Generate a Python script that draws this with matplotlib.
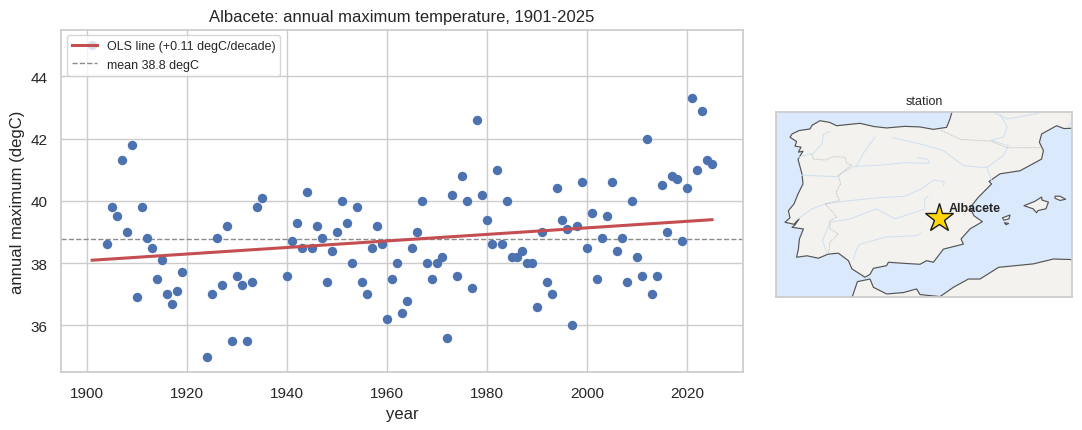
import numpy as np
import matplotlib
matplotlib.use("Agg")
import matplotlib.pyplot as plt
from matplotlib.patches import Polygon

# Annual maximum temperature at Albacete
years = [1901, 1904, 1905, 1906, 1907, 1908, 1909, 1910, 1911, 1912, 1913, 1914, 1915, 1916, 1917, 1918, 1919,
         1924, 1925, 1926, 1927, 1928, 1929, 1930, 1931, 1932, 1933, 1934, 1935,
         1940, 1941, 1942, 1943, 1944, 1945, 1946, 1947, 1948, 1949, 1950, 1951, 1952, 1953, 1954, 1955, 1956,
         1957, 1958, 1959, 1960, 1961, 1962, 1963, 1964, 1965, 1966, 1967, 1968, 1969, 1970, 1971, 1972, 1973,
         1974, 1975, 1976, 1977, 1978, 1979, 1980, 1981, 1982, 1983, 1984, 1985, 1986, 1987, 1988, 1989, 1990,
         1991, 1992, 1993, 1994, 1995, 1996, 1997, 1998, 1999, 2000, 2001, 2002, 2003, 2004, 2005, 2006, 2007,
         2008, 2009, 2010, 2011, 2012, 2013, 2014, 2015, 2016, 2017, 2018, 2019, 2020, 2021, 2022, 2023, 2024, 2025]
tmax = [45.0, 38.6, 39.8, 39.5, 41.3, 39.0, 41.8, 36.9, 39.8, 38.8, 38.5, 37.5, 38.1, 37.0, 36.7, 37.1, 37.7,
        35.0, 37.0, 38.8, 37.3, 39.2, 35.5, 37.6, 37.3, 35.5, 37.4, 39.8, 40.1,
        37.6, 38.7, 39.3, 38.5, 40.3, 38.5, 39.2, 38.8, 37.4, 38.4, 39.0, 40.0, 39.3, 38.0, 39.8, 37.4, 37.0,
        38.5, 39.2, 38.6, 36.2, 37.5, 38.0, 36.4, 36.8, 38.5, 39.0, 40.0, 38.0, 37.5, 38.0, 38.2, 35.6, 40.2,
        37.6, 40.8, 40.0, 37.2, 42.6, 40.2, 39.4, 38.6, 41.0, 38.6, 40.0, 38.2, 38.2, 38.4, 38.0, 38.0, 36.6,
        39.0, 37.4, 37.0, 40.4, 39.4, 39.1, 36.0, 39.2, 40.6, 38.5, 39.6, 37.5, 38.8, 39.5, 40.6, 38.4, 38.8,
        37.4, 40.0, 38.2, 37.6, 42.0, 37.0, 37.6, 40.5, 39.0, 40.8, 40.7, 38.7, 40.4, 43.3, 41.0, 42.9, 41.3, 41.2]

x_ticks = [1900, 1920, 1940, 1960, 1980, 2000, 2020]
y_ticks = [36, 38, 40, 42, 44]

# Land outlines as (lon, lat)
europe = [(-1.2, 44.3), (-1.2, 44.24), (-1.3, 43.9), (-1.47, 43.48), (-2.13, 43.38), (-2.8, 43.5), (-3.55, 43.53),
          (-4.47, 43.45), (-5.1, 43.52), (-5.8, 43.68), (-6.97, 43.56), (-7.3, 43.72), (-7.8, 43.81), (-8.2, 43.58),
          (-8.3, 43.4), (-8.85, 43.32), (-9.2, 43.15), (-9.3, 42.99), (-8.97, 42.78), (-9.05, 42.55), (-8.75, 42.5),
          (-8.88, 42.25), (-8.65, 42.3), (-8.9, 41.9), (-8.7, 41.17), (-8.65, 40.68), (-8.9, 40.18), (-9.1, 39.69),
          (-9.38, 39.35), (-9.3, 39.0), (-9.55, 38.78), (-9.1, 38.68), (-8.85, 38.95), (-9.05, 38.65), (-9.2, 38.53),
          (-8.63, 38.45), (-8.83, 37.95), (-8.88, 37.46), (-8.97, 37.05), (-8.45, 37.12), (-7.88, 37.0),
          (-7.4, 37.2), (-6.88, 37.25), (-6.38, 36.88), (-6.2, 36.47), (-5.55, 36.06), (-5.3, 36.2), (-5.13, 36.5),
          (-4.47, 36.63), (-4.38, 36.8), (-3.5, 36.74), (-2.8, 36.7), (-2.47, 36.88), (-2.13, 36.8), (-1.9, 37.1),
          (-1.63, 37.45), (-0.63, 37.7), (-0.75, 37.95), (-0.3, 38.45), (0.32, 38.81), (-0.1, 39.1), (-0.3, 39.5),
          (0.1, 40.0), (0.78, 40.68), (0.65, 40.8), (1.2, 41.18), (2.2, 41.33), (2.8, 41.65), (3.28, 41.91),
          (3.37, 42.33), (3.17, 42.74), (3.28, 43.15), (4.03, 43.56), (4.4, 43.42), (4.95, 43.44), (4.95, 44.3)]
africa = [(-6.25, 34.9), (-5.93, 35.84), (-5.3, 35.97), (-5.13, 35.56), (-4.47, 35.23), (-3.63, 35.3), (-2.97, 35.48),
          (-2.8, 35.2), (-1.8, 35.1), (-1.13, 35.56), (-0.38, 35.97), (0.2, 35.97), (1.13, 36.55), (2.87, 36.72),
          (3.87, 36.96), (4.95, 36.93), (4.95, 34.9)]
mallorca = [(2.4, 39.6), (2.95, 39.82), (3.28, 40.03), (3.3, 39.88), (3.62, 39.78), (3.5, 39.45), (3.1, 39.36), (3.03, 39.25), (2.85, 39.45)]
menorca = [(3.95, 40.07), (4.2, 40.07), (4.48, 39.92), (4.2, 39.86), (3.95, 39.97)]
ibiza = [(1.32, 39.0), (1.7, 39.14), (1.65, 38.95), (1.4, 38.88)]
formentera = [(1.42, 38.76), (1.63, 38.72), (1.5, 38.66)]

rivers = [
    [(-8.72, 41.11), (-6.98, 41.04), (-6.15, 41.54), (-4.91, 41.6), (-3.58, 41.73), (-2.34, 41.7), (-2.42, 41.9), (-2.92, 41.98)],
    [(-9.05, 38.85), (-8.2, 39.44), (-7.55, 39.69), (-6.3, 39.85), (-4.83, 40.0), (-3.58, 40.06), (-2.75, 40.42), (-2.09, 40.88), (-1.59, 40.78), (-1.63, 40.58)],
    [(-7.47, 37.3), (-7.67, 37.87), (-7.3, 38.78), (-6.3, 38.95), (-4.97, 39.44), (-4.05, 38.95), (-2.55, 39.44), (-2.59, 39.92), (-2.39, 40.06)],
    [(-6.13, 36.96), (-5.97, 37.45), (-5.8, 37.7), (-4.55, 38.04), (-2.97, 38.12), (-2.72, 38.24)],
    [(-8.88, 42.0), (-8.13, 42.2), (-7.7, 42.65), (-7.63, 43.15), (-7.3, 43.28)],
    [(-5.97, 41.58), (-5.55, 42.32), (-5.05, 42.99)],
    [(0.79, 40.8), (0.54, 41.5), (0.28, 41.5), (-0.63, 41.58), (-1.63, 42.33), (-2.8, 42.66), (-4.16, 42.97)],
    [(0.54, 41.5), (1.37, 42.08), (1.62, 42.57), (0.74, 42.85), (1.37, 42.99), (1.57, 43.48), (1.2, 44.14)],
    [(0.95, 44.17), (1.57, 43.9), (3.12, 44.17)],
    [(4.6, 43.5), (4.78, 43.8)],
]
borders = [
    [(-8.22, 42.16), (-8.13, 41.91), (-7.55, 41.86), (-7.13, 42.03), (-6.55, 42.0), (-6.47, 41.7), (-6.22, 41.62),
     (-6.88, 41.09), (-6.77, 40.68), (-7.0, 40.26), (-6.83, 39.85), (-7.55, 39.69), (-7.22, 39.35), (-6.97, 39.03),
     (-7.3, 38.86), (-7.3, 38.45), (-6.88, 38.2), (-7.3, 37.79), (-7.38, 37.2)],
    [(-1.76, 43.34), (-0.76, 42.88), (0.73, 42.8), (1.56, 42.47), (3.25, 42.47)],
]
station_name = "Albacete"
station_lon, station_lat = -1.86, 38.99

plt.rcParams.update({
    "font.family": ["Liberation Sans", "DejaVu Sans"],
    "text.color": ".15",
    "axes.labelcolor": ".15",
    "xtick.color": ".15",
    "ytick.color": ".15",
    "axes.edgecolor": ".8",
    "axes.linewidth": 1.25,
    "grid.color": ".8",
    "grid.linewidth": 1.0,
    "xtick.labelsize": 11,
    "ytick.labelsize": 11,
    "axes.labelsize": 12,
    "axes.titlesize": 12,
})

W, H = 1082, 431
fig = plt.figure(figsize=(W / 100, H / 100), dpi=100, facecolor="white")


def pixel_axes(left, top, right, bottom):
    return fig.add_axes([left / W, 1 - bottom / H, (right - left) / W, (bottom - top) / H])


# Time series panel
ax = pixel_axes(61.2, 30.7, 743, 373.1)
yr = np.array(years, float)
tm = np.array(tmax, float)
ax.set_axisbelow(True)
ax.grid(True)
ax.scatter(yr, tm, s=46, color="#4c72b0", zorder=2.5, linewidths=0)

slope, intercept = np.polyfit(yr, tm, 1)
mean_t = tm.mean()
ax.plot([yr[0], yr[-1]], [slope * yr[0] + intercept, slope * yr[-1] + intercept], color="#c44e52", lw=2.2, zorder=3,
        label=f"OLS line ({slope * 10:+.2f} degC/decade)")
ax.axhline(mean_t, color="#8c8c8c", lw=1, ls="--", zorder=2, label=f"mean {mean_t:.1f} degC")

ax.set_xlim(1894.8, 2031.2)
ax.set_ylim(34.5, 45.5)
ax.set_xticks(x_ticks)
ax.set_yticks(y_ticks)
ax.tick_params(axis="x", length=0, pad=10)
ax.tick_params(axis="y", length=0, pad=9.6)
ax.set_xlabel("year", labelpad=4)
ax.set_ylabel("annual maximum (degC)", labelpad=4)
ax.set_title("Albacete: annual maximum temperature, 1901-2025", pad=6.5)
ax.legend(loc="upper left", fontsize=9, frameon=True, framealpha=0.8, edgecolor=".8", borderaxespad=0.45)

# Locator map panel
mp = pixel_axes(776, 113, 1072, 298)
mp.set_facecolor("#dbe9fd")
land_kw = dict(closed=True, facecolor="#f3f2ee", edgecolor="#555555", lw=0.85, joinstyle="round", zorder=2)
for shape in (europe, africa, mallorca, menorca, ibiza, formentera):
    mp.add_patch(Polygon(shape, **land_kw))
for river in rivers:
    lon, lat = zip(*river)
    mp.plot(lon, lat, color="#cfe0f0", lw=0.7, zorder=3)
for border in borders:
    lon, lat = zip(*border)
    mp.plot(lon, lat, color="#b4b4b0", lw=0.6, ls=(0, (1, 1)), zorder=3)
mp.plot([station_lon], [station_lat], marker="*", ms=21, mfc="#ffd60a", mec="#1a1a1a", mew=1.0, zorder=5)
mp.annotate(station_name, (station_lon, station_lat), xytext=(7, 5), textcoords="offset points",
            fontsize=9, fontweight="bold", zorder=6)
mp.set_xlim(-10, 4.8)
mp.set_ylim(35.08, 44.24)
mp.set_xticks([])
mp.set_yticks([])
mp.set_title("station", fontsize=9, pad=6)

fig.savefig("out.png", dpi=100)
